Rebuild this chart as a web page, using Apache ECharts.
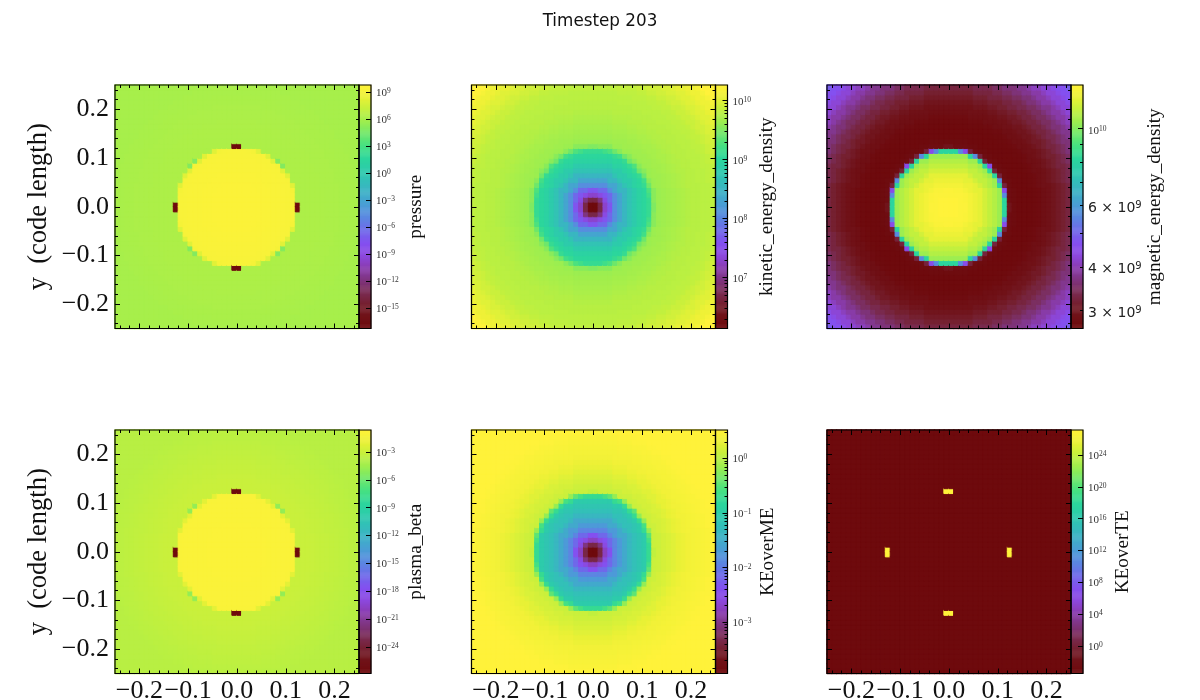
<!DOCTYPE html>
<html><head><meta charset="utf-8">
<style>html,body{margin:0;padding:0;background:#fff}#c{width:1200px;height:700px}</style>
<script src="https://cdn.jsdelivr.net/npm/echarts@6/dist/echarts.min.js"></script>
</head><body><div id="c"></div>
<script>
// Ring tables: log10 of the value, per radial band (cell units from centre)
const ringEdges = [1,2,2.3,2.7,3.2,3.8,4.5,5.5,6.5,7.5,8.5,9.5,10.5,11.2,11.7,11.9,12.1,12.4,12.55,13,14,15,16,17,18,19,20,21,22,23,24,25,26,27,28,29,30,31,32,33,34,35,36];
const pressure = [9.6,9.6,9.6,9.6,9.6,9.6,9.58,9.55,9.52,9.5,9.48,9.46,9.44,9.42,9.4,9.35,9.25,8.2,-17.3,6.35,6.35,6.35,6.35,6.35,6.35,6.3,6.3,6.3,6.25,6.25,6.2,6.2,6.15,6.15,6.15,6.15,6.15,6.15,6.15,6.15,6.15,6.15,6.15];
const kinetic = [6.14,6.68,6.97,7.295,7.42,7.625,7.79,8.08,8.325,8.53,8.70,8.82,8.945,9.03,9.11,9.19,9.275,9.44,9.52,9.56,9.646,9.667,9.688,9.708,9.729,9.749,9.77,9.791,9.791,9.811,9.811,9.832,9.853,9.894,9.935,9.976,10.018,10.059,10.121,10.183,10.265,10.265,10.265];
const magnetic = [10.124,10.124,10.124,10.12,10.12,10.12,10.117,10.107,10.096,10.086,10.07,10.054,10.04,10.02,9.91,9.75,9.655,9.505,9.465,9.44,9.432,9.425,9.425,9.425,9.428,9.435,9.446,9.456,9.467,9.481,9.495,9.509,9.523,9.54,9.558,9.575,9.593,9.61,9.628,9.649,9.67,9.691,9.705];
const beta = [-0.85,-0.85,-0.85,-0.85,-0.85,-0.85,-0.87,-0.88,-0.88,-0.9,-0.9,-0.92,-0.93,-0.94,-0.95,-0.95,-0.98,-2.07,-26.87,-3.0,-3.0,-3.0,-3.05,-3.1,-3.15,-3.2,-3.25,-3.3,-3.35,-3.4,-3.45,-3.5,-3.55,-3.6,-3.6,-3.6,-3.6,-3.6,-3.6,-3.6,-3.6,-3.6,-3.6];
const keOverMe = [-3.94,-3.36,-3.05,-2.74,-2.56,-2.38,-2.16,-1.93,-1.71,-1.53,-1.35,-1.22,-1.13,-1.04,-0.73,-0.6,-0.46,-0.19,0.07,0.12,0.14,0.18,0.21,0.25,0.30,0.35,0.39,0.41,0.43,0.45,0.475,0.5,0.52,0.52,0.52,0.52,0.52,0.52,0.52,0.52,0.52,0.52,0.52];
const keOverTe = [-3.43,-3.43,-3.43,-3.43,-3.43,-3.43,-3.43,-3.43,-3.43,-3.43,-3.43,-3.43,-3.43,-3.43,-3.43,-3.43,-3.43,-3.43,27.14,-3.43,-3.43,-3.43,-3.43,-3.43,-3.43,-3.43,-3.43,-3.43,-3.43,-3.43,-3.43,-3.43,-3.43,-3.43,-3.43,-3.43,-3.43,-3.43,-3.43,-3.43,-3.43,-3.43,-3.43];
// the isolated rim cells on the diagonal of pressure and plasma_beta (quadrant cell index, log10 value)
const pressureSpots = [[8,9,5.0],[9,8,5.0]];
const betaSpots = [[8,9,-4.8],[9,8,-4.8]];

const titles = ['pressure','kinetic_energy_density','magnetic_energy_density','plasma_beta','KEoverME','KEoverTE'];
const rings = [pressure,kinetic,magnetic,beta,keOverMe,keOverTe];
const spots = [pressureSpots,[],[],betaSpots,[],[]];
const ranges = [[-17.3,9.81],[6.14,10.265],[9.425,10.124],[-26.87,-0.63],[-3.94,0.52],[-3.43,27.14]];
const majorTicks = [
  [9,6,3,0,-3,-6,-9,-12,-15],
  [10,9,8,7],
  [10],
  [-3,-6,-9,-12,-15,-18,-21,-24],
  [0,-1,-2,-3],
  [24,20,16,12,8,4,0]
];
const minorDecades = [[],[9,8,7,6],[],[],[0,-1,-2,-3,-4],[]];
const magMinor = [9.954,9.903,9.845,9.778,9.699,9.602,9.477];
const cbarGap = [35,30,52,35.5,31,30];
const posTicks = [-0.2,-0.1,0,0.1,0.2];
const posMinor = [-0.24,-0.22,-0.18,-0.16,-0.14,-0.12,-0.08,-0.06,-0.04,-0.02,0.02,0.04,0.06,0.08,0.12,0.14,0.16,0.18,0.22,0.24];
const colorStops = ['#6e0a0d','#701218','#752030','#7a2c55','#7f3580','#8a3cb0','#8c48df','#8450f0','#7068ea','#5d85e2','#4d9ad8','#3fadc9','#35bdbb','#2dcbab','#2cd69c','#45e083','#6ee76b','#9cee50','#c2f03e','#e8f136','#fff23a'];

const N = 50;
const cats = Array.from({length:N},(_,i)=>i);
function cellValue(ring,spot,i,j){
  const x=Math.abs(i-24.5), y=Math.abs(j-24.5);
  const qi=Math.floor(x), qj=Math.floor(y);
  const s=spot.find(p=>p[0]===qi&&p[1]===qj);
  if(s) return s[2];
  const r=Math.hypot(x,y);
  return ring[ringEdges.findIndex(e=>r<=e)];
}
const lefts=[115,471.5,827], tops=[85,430], size=[244,243.5], cw=12;
const grid=[],xAxis=[],yAxis=[],series=[],visualMap=[];
const SERIF='"Liberation Serif","DejaVu Serif",serif';
const TEXT='#111';
function tickAxis(kind,gi,pos,vals,len,extra){
  const a=Object.assign({type:'value',gridIndex:gi,position:pos,min:-0.25,max:0.25,z:10,silent:true,
    axisLine:{show:false,onZero:false},splitLine:{show:false},
    axisTick:{show:true,inside:true,length:len,customValues:vals,lineStyle:{color:'#000',width:1}},
    axisLabel:{show:false}},extra||{});
  (kind==='x'?xAxis:yAxis).push(a);
}
function fmtPos(v){const s=Math.abs(v).toFixed(1);return (v<-1e-9?'\u2212':'')+s;}
function supLabel(exp){const t=exp<0?'\u2212'+(-exp):''+exp;return '{b|10}{s|'+t+'}';}

for(let p=0;p<6;p++){
  const col=p%3,row=Math.floor(p/3);
  const L=lefts[col],T=tops[row],W=size[0],H=size[1];
  const gBorder={show:true,z:10,backgroundColor:'transparent',borderColor:'#000',borderWidth:1.2,outerBoundsMode:'none'};
  const [lo,hi]=ranges[p];
  // main grid
  const gi=grid.length;
  grid.push(Object.assign({left:L,top:T,width:W,height:H},gBorder));
  const xc=xAxis.length, yc=yAxis.length;
  xAxis.push({type:'category',gridIndex:gi,data:cats,show:false});
  yAxis.push({type:'category',gridIndex:gi,data:cats,show:false});
  tickAxis('x',gi,'bottom',posTicks,5,row===1?{axisLabel:{show:true,customValues:posTicks,formatter:fmtPos,fontFamily:SERIF,fontSize:26,color:TEXT,margin:5,hideOverlap:false}}:{});
  tickAxis('x',gi,'bottom',posMinor,3);
  tickAxis('x',gi,'top',posTicks,5);
  tickAxis('x',gi,'top',posMinor,3);
  tickAxis('y',gi,'left',posTicks,5,col===0?{name:'y  (code length)',nameLocation:'middle',nameRotate:90,nameGap:62,nameTextStyle:{fontFamily:SERIF,fontSize:26.5,color:TEXT},
    axisLabel:{show:true,customValues:posTicks,formatter:fmtPos,fontFamily:SERIF,fontSize:26,color:TEXT,margin:6,padding:[2,0,0,0]}}:{});
  tickAxis('y',gi,'left',posMinor,3);
  tickAxis('y',gi,'right',posTicks,5);
  tickAxis('y',gi,'right',posMinor,3);
  const data=[];
  for(let i=0;i<N;i++)for(let j=0;j<N;j++){
    const v=cellValue(rings[p],spots[p],i,j);
    const c=echarts.color.lerp(Math.max(0,Math.min(1,(v-lo)/(hi-lo))),colorStops);
    data.push({value:[i,j,v],itemStyle:{borderColor:c,borderWidth:1}});
  }
  const mainIdx=series.length;
  series.push({type:'heatmap',name:titles[p],xAxisIndex:xc,yAxisIndex:yc,data,silent:true,progressive:0,animation:false});
  // colour bar
  const cg=grid.length;
  grid.push(Object.assign({left:L+W,top:T,width:cw,height:H},gBorder));
  const cx=xAxis.length, cy=yAxis.length;
  const steps=Array.from({length:256},(_,k)=>k);
  xAxis.push({type:'category',gridIndex:cg,data:[0],show:false});
  yAxis.push({type:'category',gridIndex:cg,data:steps,show:false});
  series.push({type:'heatmap',xAxisIndex:cx,yAxisIndex:cy,silent:true,progressive:0,animation:false,itemStyle:{borderWidth:0},
    data:steps.map(k=>[0,k,lo+(hi-lo)*k/255])});
  visualMap.push({type:'continuous',show:false,min:lo,max:hi,dimension:2,seriesIndex:[mainIdx,mainIdx+1],calculable:false,inRange:{color:colorStops}});
  // colour bar ticks
  let labelVals=majorTicks[p], fmt=v=>supLabel(Math.round(v));
  if(p===2){
    labelVals=[10,9.778,9.602,9.477];
    fmt=v=>{const k=Math.abs(v-10)<1e-6?null:(v>9.7?'6':(v>9.55?'4':'3'));return k?'{m|'+k+' \u00d7 10}{t|9}':'{b|10}{s|10}';};
  }
  yAxis.push({type:'value',gridIndex:cg,position:'right',min:lo,max:hi,z:10,silent:true,
    name:titles[p],nameLocation:'middle',nameRotate:90,nameGap:cbarGap[p],
    nameTextStyle:{fontFamily:SERIF,fontSize:19.2,color:TEXT},
    axisLine:{show:false,onZero:false},splitLine:{show:false},
    axisTick:{show:true,inside:true,length:5,customValues:majorTicks[p],lineStyle:{color:'#000',width:1}},
    axisLabel:{show:true,customValues:labelVals,formatter:fmt,margin:5,color:'#333',padding:[p===2?6:2,0,0,0],
      rich:{b:{fontFamily:SERIF,fontSize:11,color:'#333'},
            s:{fontFamily:SERIF,fontSize:7.5,color:'#333',verticalAlign:'bottom',padding:[0,0,4,0]},
            m:{fontFamily:'"DejaVu Sans"',fontSize:14,color:'#222'},
            t:{fontFamily:'"DejaVu Sans"',fontSize:10,color:'#222',verticalAlign:'bottom',padding:[0,0,6,0]}}}});
  let minors=[];
  if(p===2) minors=magMinor;
  else minorDecades[p].forEach(d=>{[2,3,4,5,6,7,8,9].forEach(m=>{const v=d+Math.log10(m);if(v>lo&&v<hi)minors.push(v);});});
  yAxis.push({type:'value',gridIndex:cg,position:'right',min:lo,max:hi,z:10,silent:true,
    axisLine:{show:false,onZero:false},splitLine:{show:false},axisLabel:{show:false},
    axisTick:{show:minors.length>0,inside:true,length:3,customValues:minors,lineStyle:{color:'#000',width:1}}});
}
const chart=echarts.init(document.getElementById('c'),null,{renderer:'canvas',width:1200,height:700});
chart.setOption({
  animation:false,backgroundColor:'#fff',
  title:{text:'Timestep 203',left:'center',top:8,textStyle:{fontFamily:'"DejaVu Sans"',fontSize:16.8,fontWeight:'normal',color:'#111'}},
  grid,xAxis,yAxis,visualMap,series
});
</script></body></html>
